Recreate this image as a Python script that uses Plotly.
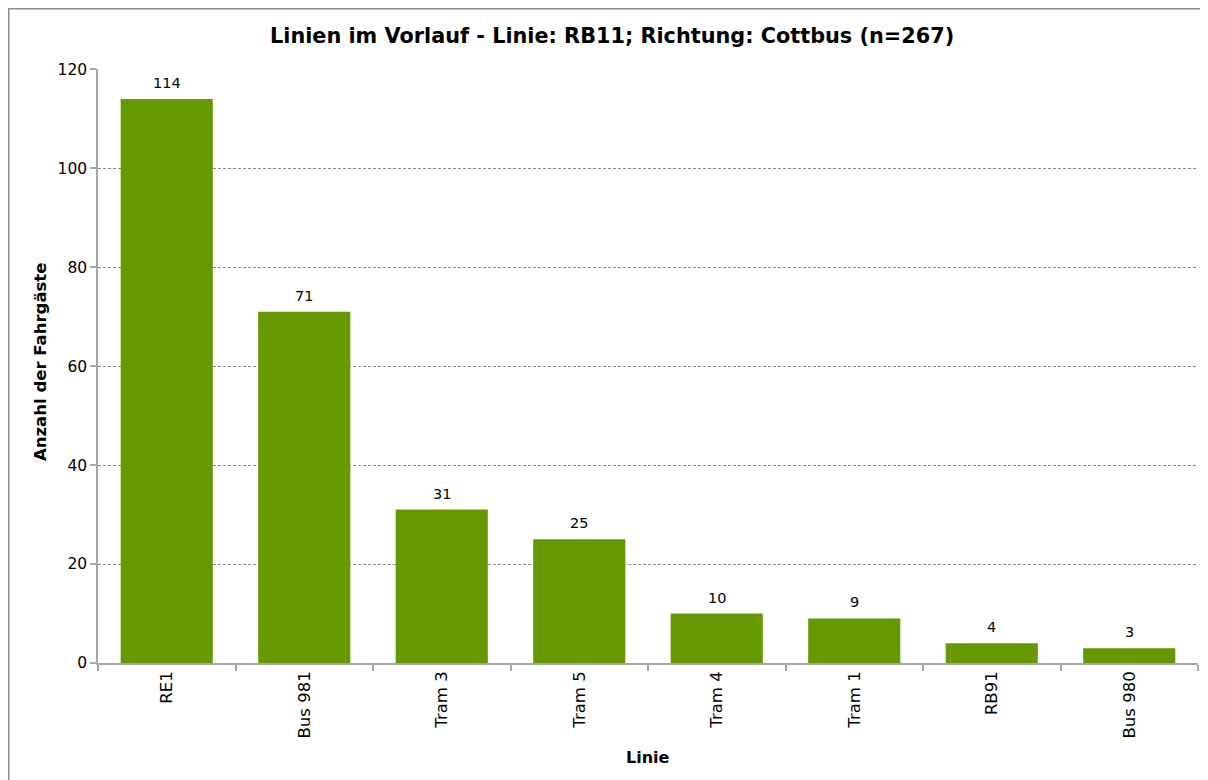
import plotly.graph_objects as go

categories = ["RE1", "Bus 981", "Tram 3", "Tram 5", "Tram 4", "Tram 1", "RB91", "Bus 980"]
values = [114, 71, 31, 25, 10, 9, 4, 3]
y_ticks = [0, 20, 40, 60, 80, 100, 120]

FONT = "DejaVu Sans"
OFF = 8  # default page body margin
W, H = 1200, 772
L, R, T, B = 90, 10, 61, 117
pw, ph = W - L - R, H - T - B

def px2x(px):
    return (px - OFF - L) / pw

def py2y(py):
    return (H - B - (py - OFF)) / ph

fig = go.Figure(go.Bar(
    x=categories, y=values, width=0.67,
    marker=dict(color="#669900", line=dict(width=0)),
))

annotations = [
    dict(x=c, y=v, xref="x", yref="y", text=str(v), showarrow=False,
         yanchor="bottom", yshift=6, font=dict(family=FONT, size=14.5, color="#000000"))
    for c, v in zip(categories, values)
]
annotations += [
    dict(text="<b>Anzahl der Fahrgäste</b>", xref="paper", yref="paper",
         x=px2x(40), y=py2y(362), xanchor="center", yanchor="middle",
         textangle=-90, showarrow=False, font=dict(family=FONT, size=16.5, color="#000000")),
    dict(text="<b>Linie</b>", xref="paper", yref="paper",
         x=px2x(648), y=py2y(757), xanchor="center", yanchor="middle",
         showarrow=False, font=dict(family=FONT, size=16, color="#000000")),
    dict(text="<b>Linien im Vorlauf - Linie: RB11; Richtung: Cottbus (n=267)</b>",
         xref="paper", yref="paper", x=px2x(612), y=py2y(36),
         xanchor="center", yanchor="middle", showarrow=False,
         font=dict(family=FONT, size=20.8, color="#000000")),
]

fig.update_layout(
    width=W, height=H,
    margin=dict(l=L, r=R, t=T, b=B, autoexpand=False),
    paper_bgcolor="white", plot_bgcolor="white",
    font=dict(family=FONT, size=15, color="#000000"),
    showlegend=False,
    bargap=0.33,
    xaxis=dict(
        automargin=False,
        tickangle=-90, tickson="boundaries", ticks="outside", ticklen=6,
        tickcolor="#a6a6a6", tickwidth=1.5, showline=True, linecolor="#a6a6a6", linewidth=1.5,
        showgrid=False, tickfont=dict(family=FONT, size=16.5),
    ),
    yaxis=dict(
        automargin=False,
        range=[0, 120.05], tickvals=y_ticks, ticks="outside", ticklen=6,
        tickcolor="#a6a6a6", tickwidth=1.5, showline=True, linecolor="#a6a6a6", linewidth=1.5,
        showgrid=True, gridcolor="#8c8c8c", griddash="3px,2px", gridwidth=1,
        zeroline=False, tickfont=dict(family=FONT, size=15.5),
    ),
    annotations=annotations,
    shapes=[dict(type="rect", xref="paper", yref="paper",
                 x0=px2x(8.75), x1=px2x(1215), y0=py2y(790), y1=py2y(8.75),
                 line=dict(color="#8c8c8c", width=1.5), fillcolor="rgba(0,0,0,0)",
                 layer="below")],
)

fig.write_html("out.html")
